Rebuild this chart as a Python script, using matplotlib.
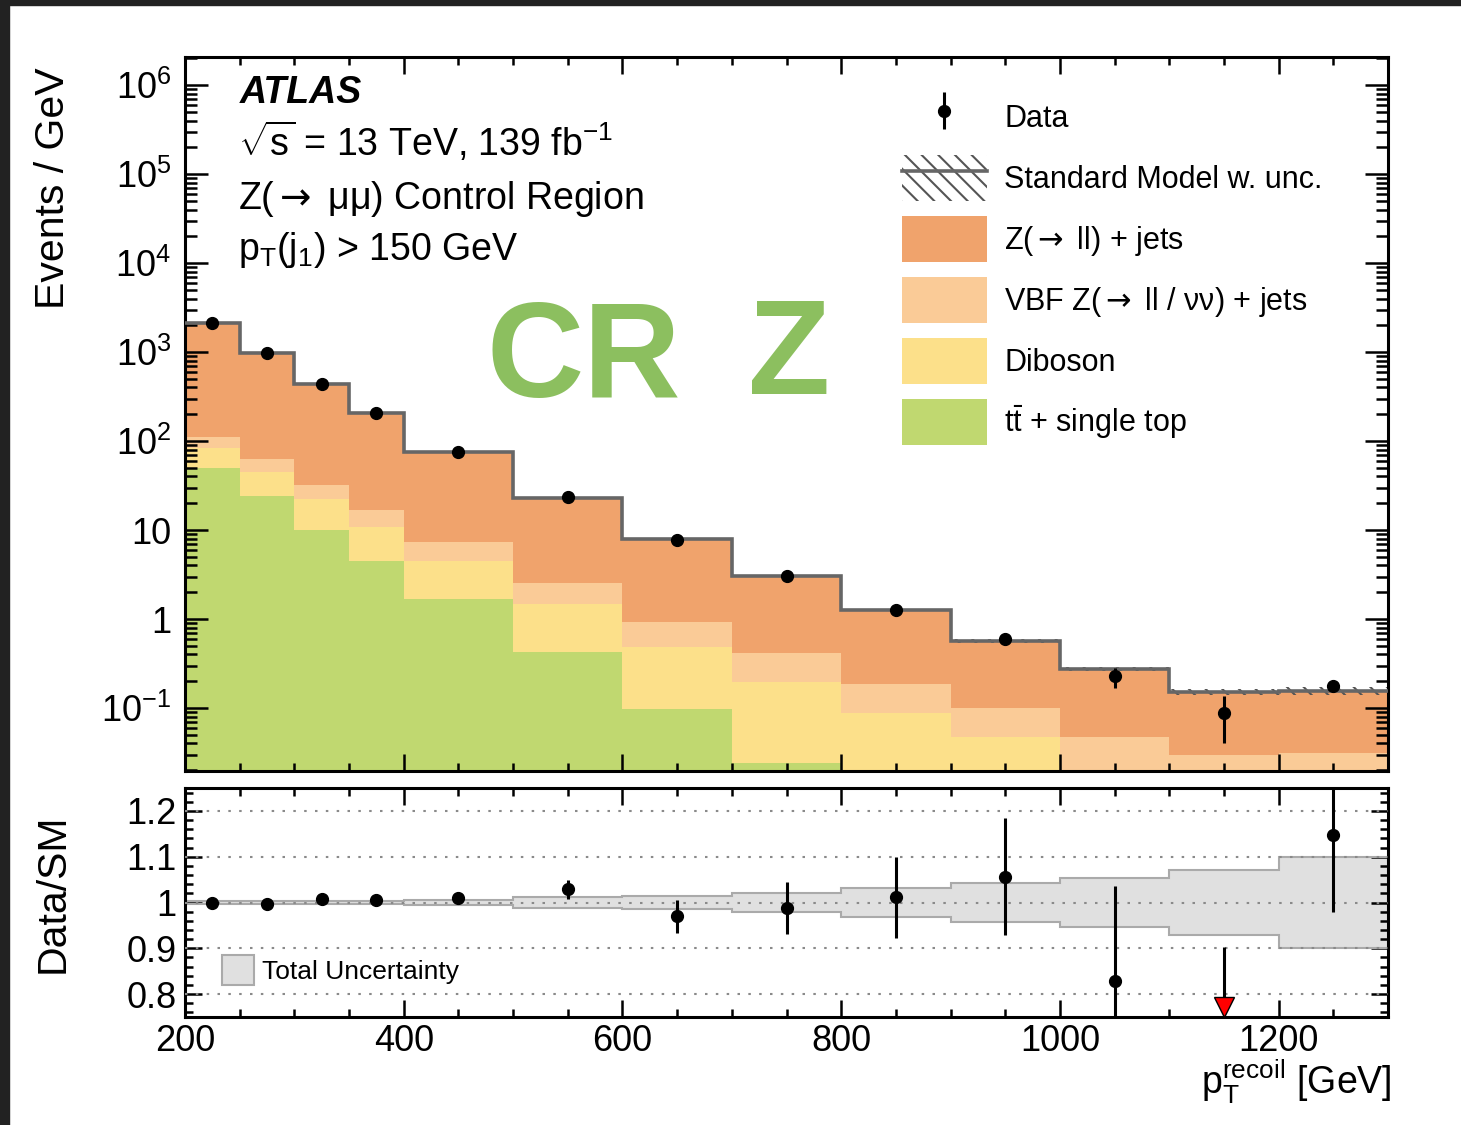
import matplotlib
matplotlib.use("Agg")
import matplotlib.pyplot as plt
import numpy as np
from matplotlib.legend_handler import HandlerErrorbar
from matplotlib.container import ErrorbarContainer
from matplotlib.lines import Line2D
from matplotlib.patches import Patch, Rectangle
from matplotlib.ticker import FixedLocator, FuncFormatter, LogLocator, MultipleLocator

plt.rcParams["font.family"] = ["Liberation Sans", "DejaVu Sans"]
plt.rcParams["mathtext.fontset"] = "custom"
plt.rcParams["mathtext.rm"] = "Liberation Sans"
plt.rcParams["mathtext.it"] = "Liberation Sans:italic"
plt.rcParams["mathtext.bf"] = "Liberation Sans:bold"
plt.rcParams["mathtext.sf"] = "DejaVu Sans"  # only used for the long arrows
plt.rcParams["mathtext.default"] = "regular"
plt.rcParams["hatch.linewidth"] = 1.5

ARROW = r"$\mathsf{\rightarrow}$"

# pT recoil binning [GeV]
bin_edges = [200, 250, 300, 350, 400, 500, 600, 700, 800, 900, 1000, 1100, 1200, 1300]

# Events / GeV for each process
ttbar_single_top = [49.8, 24.1, 10.0, 4.49, 1.68, 0.425, 0.0975, 0.024, 0.008, 0.004, 0.002, 0.001, 0.001]
diboson = [33.6, 20.8, 12.3, 6.3, 2.81, 1.055, 0.387, 0.172, 0.080, 0.043, 0.015, 0.009, 0.009]
vbf_z = [27.6, 17.9, 9.8, 6.0, 2.84, 1.06, 0.441, 0.219, 0.098, 0.053, 0.030, 0.0197, 0.021]
z_jets = [2007, 912, 405, 190, 67.9, 20.4, 7.0, 2.63, 1.07, 0.466, 0.227, 0.121, 0.124]

data = [2114, 971, 440, 208, 76.0, 23.6, 7.69, 3.01, 1.27, 0.598, 0.227, 0.088, 0.178]
data_err = [6.3, 4.4, 2.9, 2.0, 0.84, 0.47, 0.285, 0.173, 0.111, 0.072, 0.057, 0.048, 0.026]

# relative uncertainty of the SM prediction
sm_rel_unc = [0.004, 0.004, 0.004, 0.004, 0.005, 0.011, 0.015, 0.021, 0.032, 0.042, 0.054, 0.071, 0.10]

processes = [
    ("tt", ttbar_single_top, "#c0d870", r"$\mathrm{t\bar{t}}$ + single top"),
    ("vv", diboson, "#fce08a", "Diboson"),
    ("vbf", vbf_z, "#facb97", f"VBF Z({ARROW} ll / νν) + jets"),
    ("zj", z_jets, "#f0a36c", f"Z({ARROW} ll) + jets"),
]

W, H = 1461, 1125
fig = plt.figure(figsize=(W / 100, H / 100), dpi=100)
ax = fig.add_axes([185 / W, 1 - 771 / H, 1203 / W, 714 / H])
ax2 = fig.add_axes([185 / W, 1 - 1017 / H, 1203 / W, 229 / H])

edges = np.array(bin_edges, dtype=float)
centers = 0.5 * (edges[1:] + edges[:-1])

# Stacked histogram
cum = np.full(len(centers), 1e-4)
patches = {}
for key, vals, color, label in processes:
    top = cum + np.array(vals)
    ax.stairs(top, edges, baseline=cum, fill=True, color=color, lw=0, zorder=1)
    patches[key] = Patch(facecolor=color, edgecolor="none", label=label)
    cum = top
total = cum

unc = np.array(sm_rel_unc)
ax.stairs(total * (1 + unc), edges, baseline=total * (1 - unc), fill=True,
          facecolor="none", edgecolor="#555555", hatch="\\\\", lw=0, zorder=2)
ax.stairs(total, edges, baseline=None, color="#666666", lw=2.6, zorder=3)

data = np.array(data)
data_err = np.array(data_err)
h_data = ax.errorbar(centers, data, yerr=data_err, fmt="o", color="black", ms=8.5,
                     elinewidth=2.2, capsize=0, zorder=5)

ax.set_xlim(200, 1300)
ax.set_yscale("log")
ax.set_ylim(0.0196, 2.07e6)
ax.yaxis.set_major_locator(FixedLocator([1e-1, 1, 10, 1e2, 1e3, 1e4, 1e5, 1e6]))
ax.yaxis.set_minor_locator(LogLocator(base=10, subs=np.arange(2, 10), numticks=30))


def log_label(v, pos):
    if np.isclose(v, 1):
        return "1"
    if np.isclose(v, 10):
        return "10"
    return r"$10^{%d}$" % round(np.log10(v))


ax.yaxis.set_major_formatter(FuncFormatter(log_label))
ax.yaxis.set_minor_formatter(FuncFormatter(lambda v, p: ""))
ax.xaxis.set_major_locator(MultipleLocator(200))
ax.xaxis.set_minor_locator(MultipleLocator(50))
ax.tick_params(axis="x", labelbottom=False)

# Ratio panel
ratio = data / total
ratio_err = data_err / total
ax2.stairs(1 + unc, edges, baseline=1 - unc, fill=True, color="#e0e0e0", lw=0, zorder=1)
ax2.stairs(1 + unc, edges, baseline=None, color="#aaaaaa", lw=1.5, zorder=2)
ax2.stairs(1 - unc, edges, baseline=None, color="#aaaaaa", lw=1.5, zorder=2)
for yv in [0.8, 0.9, 1.0, 1.1, 1.2]:
    ax2.axhline(yv, color="#8a8a8a", lw=1.5, dashes=(1.2, 4), zorder=3)

ylo, yhi = 0.75, 1.25
ok = ratio > ylo
ax2.errorbar(centers[ok], ratio[ok], yerr=ratio_err[ok], fmt="o", color="black", ms=8.5,
             elinewidth=2.2, capsize=0, zorder=5)
for x, r, e in zip(centers[~ok], ratio[~ok], ratio_err[~ok]):
    ax2.vlines(x, ylo + 0.02, r + e, color="black", lw=2.2, zorder=5)
    ax2.plot(x, ylo + 0.022, marker="v", ms=14, mfc="red", mec="black", mew=1, zorder=6)

ax2.set_xlim(200, 1300)
ax2.set_ylim(ylo, yhi)
ax2.yaxis.set_major_locator(FixedLocator([0.8, 0.9, 1.0, 1.1, 1.2]))
ax2.yaxis.set_minor_locator(MultipleLocator(0.02))
ax2.yaxis.set_major_formatter(FuncFormatter(lambda v, p: "1" if np.isclose(v, 1) else f"{v:.1f}"))
ax2.xaxis.set_major_locator(MultipleLocator(200))
ax2.xaxis.set_minor_locator(MultipleLocator(50))

for a in (ax, ax2):
    for s in a.spines.values():
        s.set_linewidth(2.2)
    a.tick_params(which="both", direction="in", top=True, right=True, width=1.8, labelsize=26)
    a.tick_params(axis="x", which="major", length=12.5, pad=5)
    a.tick_params(axis="x", which="minor", length=6)
ax.tick_params(axis="y", which="major", length=16.5, pad=10)
ax.tick_params(axis="y", which="minor", length=8.5)
ax2.tick_params(axis="y", which="major", length=12.5, pad=6)
ax2.tick_params(axis="y", which="minor", length=6)

# Legends
h_sm = (Patch(facecolor="none", edgecolor="#555555", hatch="\\\\", lw=0),
        Line2D([], [], color="#666666", lw=2.6))
handles = [h_data, h_sm, patches["zj"], patches["vbf"], patches["vv"], patches["tt"]]
labels = ["Data", "Standard Model w. unc.", patches["zj"].get_label(), patches["vbf"].get_label(),
          patches["vv"].get_label(), patches["tt"].get_label()]
ax.legend(handles, labels, loc="upper left", bbox_to_anchor=(0.596, 0.948), frameon=False,
          fontsize=22, handlelength=2.78, handleheight=1.94, labelspacing=0.49,
          handletextpad=0.56, borderpad=0, borderaxespad=0,
          handler_map={ErrorbarContainer: HandlerErrorbar(yerr_size=0.6)})

ax2.legend([Patch(facecolor="#e0e0e0", edgecolor="#aaaaaa", lw=1.5)], ["Total Uncertainty"],
           loc="upper left", bbox_to_anchor=((222 - 185) / 1203, 1 - (955 - 788) / 229),
           frameon=False, fontsize=19, handlelength=1.21, handleheight=1.4,
           handletextpad=0.3, borderpad=0, borderaxespad=0)

# Labels and annotations
fig.text(53 / W, 1 - 67 / H, "Events / GeV", rotation=90, ha="center", va="top", fontsize=29.5)
fig.text(53 / W, 1 - 893 / H, "Data/SM", rotation=90, ha="center", va="center", fontsize=29.5)
fig.text(1392 / W, 1 - 1094 / H, r"p$_{\mathrm{T}}^{\mathrm{recoil}}$ [GeV]", ha="right",
         va="baseline", fontsize=27)

fig.text(240 / W, 1 - 103 / H, "ATLAS", fontsize=27, fontweight="bold", fontstyle="italic",
         va="baseline")
fig.text(238 / W, 1 - 156 / H, r"$\sqrt{\mathrm{s}}$ = 13 TeV, 139 fb$^{-1}$", fontsize=27,
         va="baseline")
fig.text(238 / W, 1 - 209 / H, f"Z({ARROW} μμ) Control Region", fontsize=27, va="baseline")
fig.text(238 / W, 1 - 260 / H, r"p$_{\mathrm{T}}$(j$_{1}$) > 150 GeV", fontsize=27,
         va="baseline")

# hand-written overlay
fig.text(487 / W, 1 - 397 / H, "CR", fontsize=97, fontweight="bold", color="#8cbf5f",
         va="baseline")
fig.text(748 / W, 1 - 394 / H, "Z", fontsize=97, fontweight="bold", color="#8cbf5f",
         va="baseline")

# screenshot frame
fig.add_artist(Rectangle((0, 1 - 5 / H), 1, 5 / H, transform=fig.transFigure,
                         color="#222222", zorder=10))
fig.add_artist(Rectangle((0, 0), 9 / W, 1, transform=fig.transFigure,
                         color="#222222", zorder=10))

fig.savefig("out.png", dpi=100)
